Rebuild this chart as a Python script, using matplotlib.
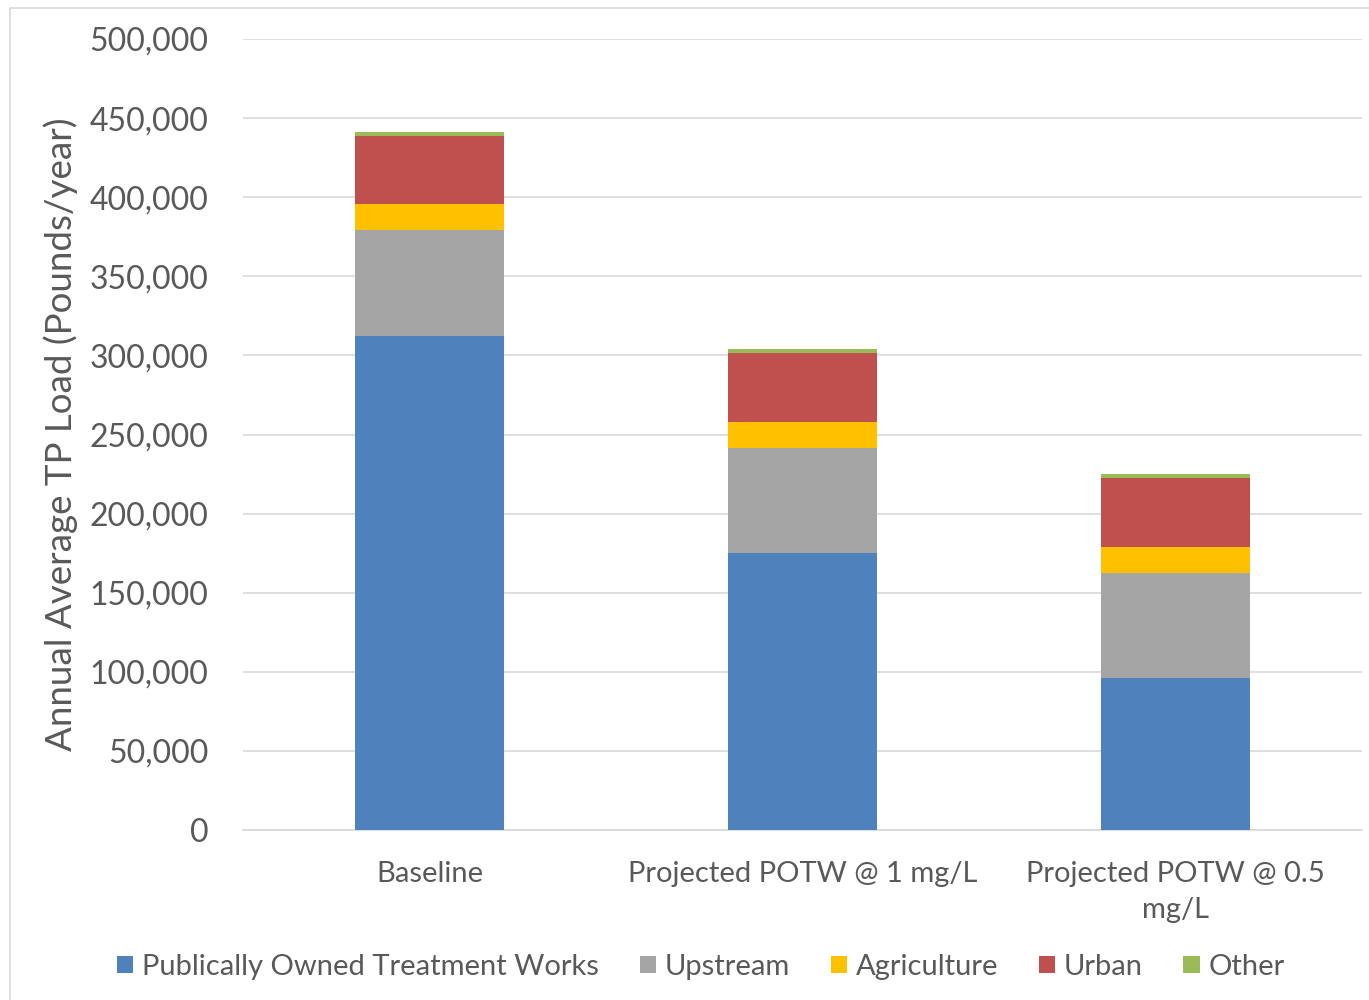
import matplotlib.pyplot as plt
from matplotlib.patches import Rectangle

# data (pounds/year)
categories = ["Baseline", "Projected POTW @ 1 mg/L", "Projected POTW @ 0.5\nmg/L"]
potw = [312500, 175000, 96000]
upstream = [66500, 66500, 66500]
agriculture = [16500, 16500, 16500]
urban = [43500, 43500, 43500]
other = [2500, 2500, 2500]

series_names = ["Publically Owned Treatment Works", "Upstream", "Agriculture", "Urban", "Other"]
series_colors = ["#4f81bd", "#a5a5a5", "#ffc000", "#c0504d", "#9bbb59"]
y_ticks = [0, 50000, 100000, 150000, 200000, 250000, 300000, 350000, 400000, 450000, 500000]

plt.rcParams['font.family'] = ['Lato', 'DejaVu Sans']
text_col = "#595959"

fig = plt.figure(figsize=(13.69, 10), dpi=100)
ax = fig.add_axes([0.1775, 0.17, 0.8175, 0.791])

# light frame around the chart
fig.patches.append(Rectangle((0.007, -0.01), 1.2, 1.002, transform=fig.transFigure,
                             fill=False, edgecolor="#d9d9d9", linewidth=1.2))

x = range(len(categories))
bottom = [0, 0, 0]
for name, vals, col in zip(series_names, [potw, upstream, agriculture, urban, other], series_colors):
    ax.bar(x, vals, width=0.4, bottom=bottom, color=col, label=name, zorder=3)
    bottom = [b + v for b, v in zip(bottom, vals)]

ax.set_xlim(-0.5, 2.5)
ax.set_ylim(0, 500000)
ax.set_yticks(y_ticks)
ax.set_yticklabels([f"{v:,}" for v in y_ticks])
ax.set_xticks(list(x))
ax.set_xticklabels(categories, linespacing=1.5)
ax.grid(axis="y", color="#d9d9d9", linewidth=1.2, zorder=0)
for s in ["top", "right", "left"]:
    ax.spines[s].set_visible(False)
ax.spines["bottom"].set_color("#d9d9d9")
ax.spines["bottom"].set_linewidth(1.2)
ax.tick_params(axis="y", length=0, labelsize=23, labelcolor=text_col, pad=25)
ax.tick_params(axis="x", length=0, labelsize=21, labelcolor=text_col, pad=22)
ax.set_ylabel("Annual Average TP Load (Pounds/year)", fontsize=26.5, color=text_col, labelpad=8)

leg = fig.legend(loc="center", bbox_to_anchor=(0.512, 0.033), ncol=5, frameon=False,
                 fontsize=21, handlelength=0.55, handleheight=0.55, handletextpad=0.3,
                 columnspacing=1.4)
for t in leg.get_texts():
    t.set_color(text_col)

fig.savefig("out.png", dpi=100)
